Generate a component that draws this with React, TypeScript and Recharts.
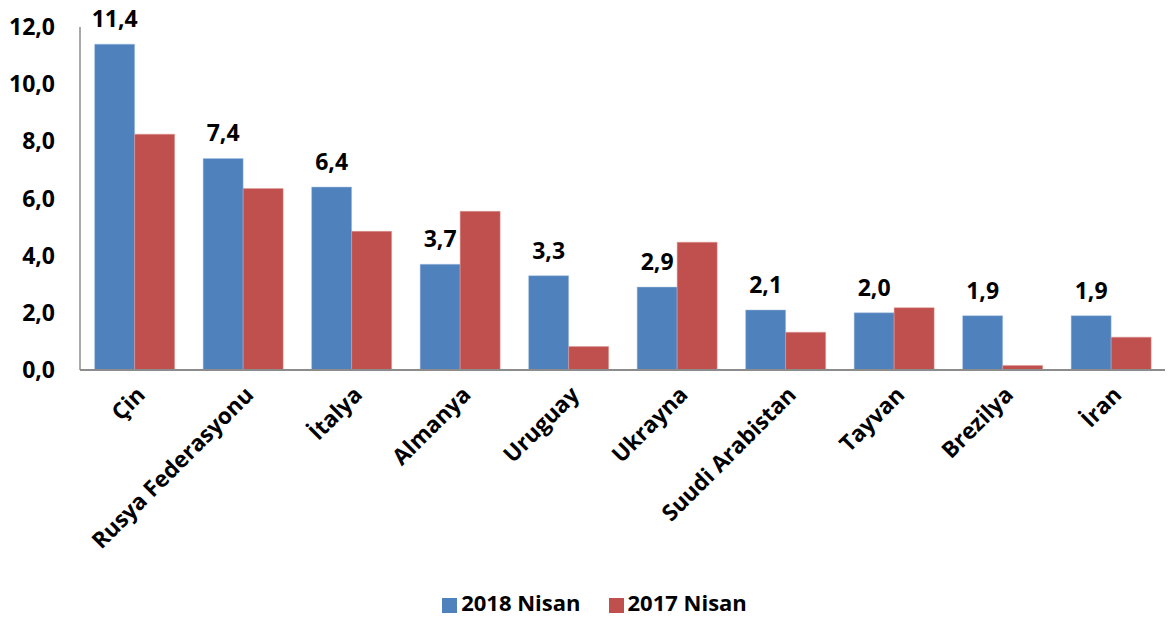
import React from 'react';
import { BarChart, Bar, XAxis, YAxis, Legend, LabelList } from 'recharts';

const categories = ['Çin', 'Rusya Federasyonu', 'İtalya', 'Almanya', 'Uruguay', 'Ukrayna', 'Suudi Arabistan', 'Tayvan', 'Brezilya', 'İran'];
const values2018 = [11.4, 7.4, 6.4, 3.7, 3.3, 2.9, 2.1, 2.0, 1.9, 1.9];
const values2017 = [8.25, 6.35, 4.85, 5.55, 0.82, 4.47, 1.32, 2.18, 0.16, 1.15];
const yTicks = [0, 2, 4, 6, 8, 10, 12];

const data = categories.map((name, i) => ({ name, v2018: values2018[i], v2017: values2017[i] }));

const FONT = '"Open Sans", Lato, sans-serif';
const fmt = (v: number) => v.toFixed(1).replace('.', ',');

const XTick = (props: any) => {
  const { x, y, payload } = props;
  return (
    <g transform={`translate(${x + 8},${y + 14})`}>
      <text transform="rotate(-45)" textAnchor="end" dominantBaseline="middle" fontFamily={FONT} fontWeight={700} fontSize={22.5} fill="#000">
        {payload.value}
      </text>
    </g>
  );
};

const legendOrder = ['2018 Nisan', '2017 Nisan'];

export default function App() {
  return (
    <div style={{ position: 'absolute', left: 0, top: 0, width: 1168, height: 617, background: '#fff' }}>
      <BarChart width={1168} height={617} data={data} margin={{ top: 27, right: 3, left: 0, bottom: 0 }} barGap={0} barCategoryGap="13.5%">
        <XAxis dataKey="name" height={213} interval={0} tick={<XTick />} tickLine={false} axisLine={{ stroke: '#8c8c8c', strokeWidth: 2 }} />
        <YAxis domain={[0, 12]} ticks={yTicks} width={80} tickFormatter={fmt} tickLine={false} axisLine={{ stroke: '#8c8c8c', strokeWidth: 1.5 }} tick={{ fontFamily: FONT, fontWeight: 700, fontSize: 23, fill: '#000' }} tickMargin={19} />
        <Legend verticalAlign="bottom" height={34} iconType="square" iconSize={15} itemSorter={(item: any) => legendOrder.indexOf(item.value)} wrapperStyle={{ fontFamily: FONT, fontWeight: 700, fontSize: 22, color: '#000', bottom: -4, paddingLeft: 26 }} formatter={(v: string) => <span style={{ color: '#000', marginRight: 18 }}>{v}</span>} />
        <Bar dataKey="v2018" name="2018 Nisan" fill="#4F81BD" stroke="#a7c0e0" strokeWidth={0.5} isAnimationActive={false}>
          <LabelList dataKey="v2018" position="top" offset={17} formatter={(v: any) => fmt(Number(v))} style={{ fontFamily: FONT, fontWeight: 700, fontSize: 23, fill: '#000' }} />
        </Bar>
        <Bar dataKey="v2017" name="2017 Nisan" fill="#C0504D" stroke="#dc9a98" strokeWidth={0.5} isAnimationActive={false} />
      </BarChart>
    </div>
  );
}
